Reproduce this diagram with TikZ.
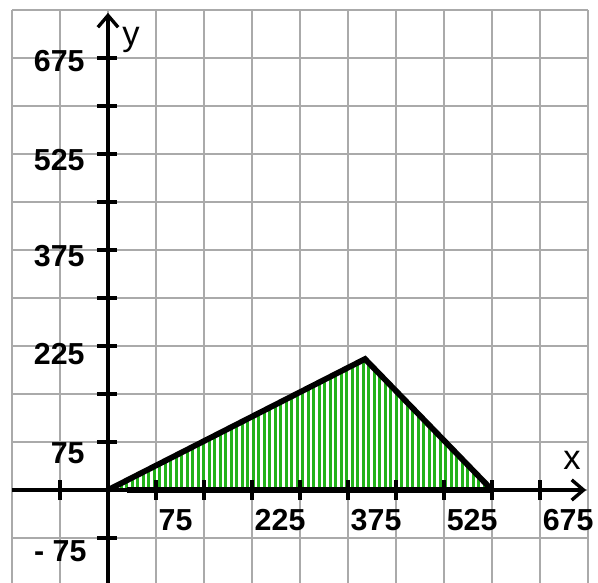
\documentclass[tikz,border=0pt]{standalone}
\usepackage{fontspec}
\setmainfont{Liberation Sans}
\usetikzlibrary{arrows.meta}
\definecolor{gridgray}{RGB}{170,170,170}
\definecolor{stripegreen}{RGB}{34,178,26}
\tikzset{
  gridline/.style={gridgray, line width=1.6pt},
  axisline/.style={black, line width=2.2pt, -{Straight Barb[length=7pt, width=12pt, line width=2pt]}},
  tickline/.style={black, line width=2pt},
  numlabel/.style={font=\fontsize{18}{20}\selectfont\bfseries, inner sep=0pt},
  axislabel/.style={font=\fontsize{20.5}{22}\selectfont, inner sep=0pt, anchor=base west}
}
\begin{document}
\begin{tikzpicture}[x=1cm, y=1cm]
                    \useasboundingbox (-2.25,-1.9375) rectangle (10.208,10.208);
                    \begin{scope}
                        \clip (-2.25,-1.9375) rectangle (10.208,10.208);
                        \draw[gridline] (-2,-2) grid (10,10);
                    \end{scope}
                    % stripes inside the triangle
                    \begin{scope}
                        \clip (0,0) -- (5.354,2.729) -- (8,0) -- cycle;
                        \fill[white] (0,0) rectangle (8,3);
                        \foreach \i in {0,...,71}
                            \draw[stripegreen, line width=1.8pt] (0.05+\i*0.1146,0) -- ++(0,3);
                    \end{scope}
                    \draw[axisline] (-2,0) -- (9.96,0);
                    \draw[axisline] (0,-1.9375) -- (0,9.94);
                    \foreach \k in {-1,1,2,...,9} {
                        \draw[tickline] (\k,-0.21) -- (\k,0.21);
                        \draw[tickline] (-0.23,\k) -- (0.19,\k);
                    }
                    \draw[black, line width=3.4pt, line join=miter] (0,0) -- (5.354,2.729) -- (8,0);
                    \draw[black, line width=3.4pt] (0.4,0) -- (8,0);
                    \node[axislabel] (xlab) at (9.48,0.417) {x};
                    \node[axislabel] (ylab) at (0.29,9.25) {y};
                    \node[numlabel, anchor=east] (y675) at (-0.48,8.94) {675};
                    \node[numlabel, anchor=east] (y525) at (-0.48,6.875) {525};
                    \node[numlabel, anchor=east] (y375) at (-0.48,4.875) {375};
                    \node[numlabel, anchor=east] (y225) at (-0.48,2.83) {225};
                    \node[numlabel, anchor=east] (y75) at (-0.48,0.77) {75};
                    \node[numlabel, anchor=east] (ym75) at (-0.44,-1.27) {- 75};
                    \foreach \k/\v in {1/75,3/225,5/375,7/525,9/675}
                        \node[numlabel, anchor=west] (x\v) at (\k+0.05,-0.625) {\v};
                \end{tikzpicture}
\end{document}
